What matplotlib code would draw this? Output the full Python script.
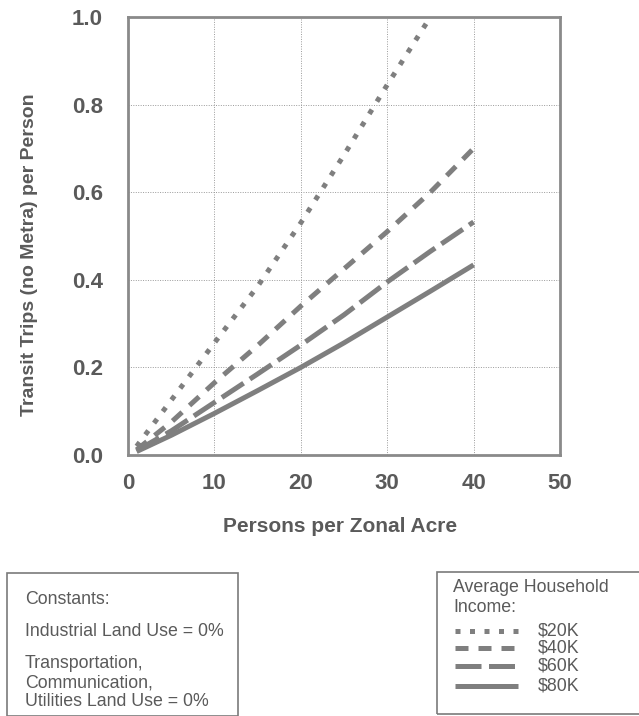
import matplotlib
matplotlib.use("Agg")
import matplotlib.pyplot as plt
from matplotlib.patches import Rectangle

plt.rcParams["font.family"] = ["Liberation Sans", "DejaVu Sans"]

# persons per zonal acre
density = [1, 5, 10, 15, 20, 25, 30, 35, 40]
# transit trips per person by average household income
trips_20k = [0.02, 0.125, 0.256, 0.385, 0.53, 0.685, 0.845, 1.0]
trips_40k = [0.012, 0.075, 0.165, 0.25, 0.34, 0.425, 0.51, 0.60, 0.70]
trips_60k = [0.01, 0.055, 0.12, 0.185, 0.251, 0.32, 0.395, 0.465, 0.532]
trips_80k = [0.008, 0.045, 0.095, 0.147, 0.20, 0.256, 0.315, 0.374, 0.434]
incomes = ["$20K", "$40K", "$60K", "$80K"]

xticks = [0, 10, 20, 30, 40, 50]
yticks = [0.0, 0.2, 0.4, 0.6, 0.8, 1.0]

GRAY = "#7f7f7f"
TXT = "#5a5a5a"
LW = 3.6
styles = [(0, (1.0, 1.9)), (0, (2.6, 2.0)), (0, (5.2, 1.5)), "-"]

fig = plt.figure(figsize=(6.39, 7.16), dpi=100)
ax = fig.add_axes([0.2003, 0.3645, 0.6761, 0.6118])

series = [trips_20k, trips_40k, trips_60k, trips_80k]
for ys, ls in zip(series, styles):
    ax.plot(density[:len(ys)], ys, color=GRAY, lw=LW, ls=ls,
            dash_capstyle="butt", solid_capstyle="butt")

ax.set_xlim(0, 50)
ax.set_ylim(0, 1.0)
ax.set_xticks(xticks)
ax.set_yticks(yticks)
ax.set_xticklabels([str(v) for v in xticks])
ax.set_yticklabels([f"{v:.1f}" for v in yticks])
ax.tick_params(length=0, labelsize=16, labelcolor=TXT)
ax.tick_params(axis="x", pad=13)
ax.tick_params(axis="y", pad=18)
for lab in ax.get_xticklabels() + ax.get_yticklabels():
    lab.set_fontweight("bold")
ax.grid(True, color="#9a9a9a", lw=0.7, ls=(0, (1, 1.5)))
for sp in ax.spines.values():
    sp.set_color("#8a8a8a")
    sp.set_linewidth(2.0)

ax.set_xlabel("Persons per Zonal Acre", fontsize=15, fontweight="bold",
              color=TXT, va="center")
ax.set_ylabel("Transit Trips (no Metra) per Person", fontsize=14,
              fontweight="bold", color=TXT, va="center")
ax.xaxis.set_label_coords(0.491, -0.164)
ax.yaxis.set_label_coords(-0.227, 0.457)

W, H = 639.0, 716.0

def fx(px):
    return px / W

def fy(py):
    return 1 - py / H

FS = 12.8

# constants box
fig.patches.append(Rectangle((fx(7), fy(716)), fx(231), fy(573) - fy(716),
                             transform=fig.transFigure, fill=False,
                             ec="#7a7a7a", lw=1.2))
box_txt = [("Constants:", 600), ("Industrial Land Use = 0%", 632),
           ("Transportation,", 664), ("Communication,", 683),
           ("Utilities Land Use = 0%", 702)]
for s, py in box_txt:
    fig.text(fx(25), fy(py), s, fontsize=FS, color=TXT, va="center")

# income legend box
fig.patches.append(Rectangle((fx(437), fy(714)), fx(210), fy(572) - fy(714),
                             transform=fig.transFigure, fill=False,
                             ec="#7a7a7a", lw=1.2))
fig.text(fx(453), fy(587), "Average Household", fontsize=FS, color=TXT,
         va="center")
fig.text(fx(453), fy(607), "Income:", fontsize=FS, color=TXT, va="center")
lax = fig.add_axes([fx(437), fy(714), fx(200), fy(572) - fy(714)])
lax.set_xlim(437, 637)
lax.set_ylim(714, 572)
lax.axis("off")
rows = [631, 648, 666, 686]
for lab, ls, py in zip(incomes, styles, rows):
    lax.plot([455, 518], [py, py], color=GRAY, lw=LW, ls=ls,
             dash_capstyle="butt", solid_capstyle="butt")
    lax.text(538, py, lab, fontsize=FS, color=TXT, va="center")

fig.savefig("out.png", dpi=100, facecolor="white")
